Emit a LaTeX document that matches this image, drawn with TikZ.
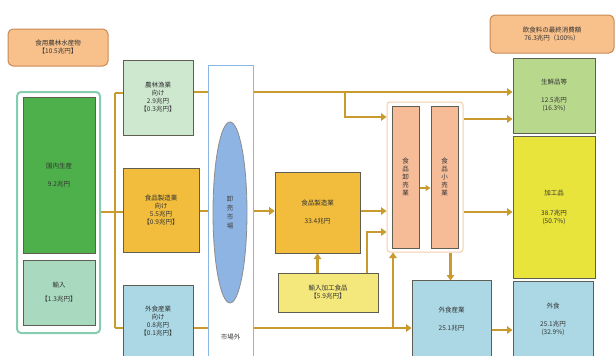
\documentclass[tikz,border=0pt]{standalone}
\usepackage{fontspec}
\setmainfont{Noto Sans CJK JP}
\usetikzlibrary{arrows.meta,shapes.geometric}
\definecolor{flow}{HTML}{C99A2E}
\definecolor{orgfill}{HTML}{F8C08A}
\definecolor{orgdraw}{HTML}{C98A55}
\definecolor{dgreen}{HTML}{4DB04A}
\definecolor{tealb}{HTML}{86CCAE}
\definecolor{impfill}{HTML}{A9D9BE}
\definecolor{lgreen}{HTML}{CDE8CF}
\definecolor{gold}{HTML}{F2BD3C}
\definecolor{lblue}{HTML}{ABD8E4}
\definecolor{wbox}{HTML}{8AB7E2}
\definecolor{ellfill}{HTML}{8EB4E3}
\definecolor{salmon}{HTML}{F6BC98}
\definecolor{contb}{HTML}{F3CDA8}
\definecolor{fresh}{HTML}{B8D98B}
\definecolor{proc}{HTML}{E9E43C}
\definecolor{impproc}{HTML}{F4E77C}
\definecolor{bdr}{HTML}{5E5E52}
\tikzset{
  box/.style={draw=bdr, line width=1pt, inner sep=0pt, align=center, font=\fontsize{6.5}{8}\selectfont, text=black!80},
  flowline/.style={draw=flow, line width=2.4pt},
  flowarrow/.style={flowline, -{Triangle[width=7.5pt,length=5.5pt]}},
}
\begin{document}
\begin{tikzpicture}[x=1pt,y=-1pt]
\useasboundingbox (0,0) rectangle (616,356);
\fill[white] (0,0) rectangle (616,356);
% top boxes
\node[box, draw=orgdraw, fill=orgfill, rounded corners=5pt, minimum width=100pt, minimum height=37pt] (src) at (58,47.5) {食用農林水産物\\【10.5兆円】};
\node[box, draw=orgdraw, fill=orgfill, rounded corners=5pt, minimum width=124pt, minimum height=38pt] (fin) at (552,34) {飲食料の最終消費額\\76.3兆円（100\%）};
% left group
\node[draw=tealb, line width=2pt, rounded corners=4pt, fill=white, minimum width=83pt, minimum height=241pt, inner sep=0pt] (grp) at (58.5,212.5) {};
\node[box, fill=dgreen, minimum width=72pt, minimum height=156pt] (dom) at (59,175) {国内生産\\[10pt]9.2兆円};
\node[box, fill=impfill, minimum width=72pt, minimum height=65pt] (imp) at (59,292.5) {輸入\\[6pt]【1.3兆円】};
% intermediate left boxes
\node[box, fill=lgreen, minimum width=70pt, minimum height=75pt] (agr) at (158,97.5) {農林漁業\\向け\\2.9兆円\\【0.3兆円】};
\node[box, fill=gold, minimum width=76pt, minimum height=84pt] (mfg) at (161,210) {食品製造業\\向け\\5.5兆円\\【0.9兆円】};
\node[box, fill=lblue, minimum width=70pt, minimum height=72pt] (fsv) at (158,321) {外食産業\\向け\\0.8兆円\\【0.1兆円】};
% middle boxes
\node[box, fill=gold, minimum width=85pt, minimum height=81pt] (fm) at (317.5,212.5) {食品製造業\\[10pt]33.4兆円};
\node[box, fill=impproc, minimum width=100pt, minimum height=39pt] (ipf) at (328,292.5) {輸入加工食品\\【5.9兆円】};
\node[draw=contb, line width=1pt, fill=white, rounded corners=3pt, minimum width=76pt, minimum height=150pt, inner sep=0pt] (cont) at (425,177) {};
\node[box, fill=salmon, minimum width=27pt, minimum height=142pt] (whs) at (405.5,177) {食\\品\\卸\\売\\業};
\node[box, fill=salmon, minimum width=27pt, minimum height=142pt] (ret) at (444.5,177) {食\\品\\小\\売\\業};
\node[box, fill=lblue, minimum width=79pt, minimum height=78pt] (fsi) at (451.5,319) {外食産業\\[10pt]25.1兆円};
% right boxes
\node[box, fill=fresh, minimum width=82pt, minimum height=75pt] (fr) at (554,95.5) {生鮮品等\\[10pt]12.5兆円\\(16.3\%)};
\node[box, fill=proc, minimum width=82pt, minimum height=142pt] (pr) at (554,207) {加工品\\[12pt]38.7兆円\\(50.7\%)};
\node[box, fill=lblue, minimum width=80pt, minimum height=76pt] (eo) at (553,319) {外食\\[10pt]25.1兆円\\(32.9\%)};
% coordinates
\coordinate (tTop) at (115,93);
\coordinate (tMid) at (115,212);
\coordinate (tBot) at (115,328);
\coordinate (br1) at (345,92);
\coordinate (br2) at (367,232);
\coordinate (br3) at (393,328);
% flows (behind market box)
\draw[flowline] (grp.east |- tMid) -- (tMid);
\draw[flowline] (tTop) -- (tBot);
\draw[flowline] (tTop) -- (agr.west |- tTop);
\draw[flowline] (tMid) -- (mfg.west |- tMid);
\draw[flowline] (tBot) -- (fsv.west |- tBot);
\draw[flowarrow] (agr.east |- 0,92) -- (fr.west |- 0,92);
\draw[flowarrow] (br1) -- (345,117) -- (cont.west |- 0,117);
\draw[flowarrow] (mfg.east |- 0,211) -- (fm.west |- 0,211);
\draw[flowarrow] (fsv.east |- 0,328) -- (fsi.west |- 0,328);
\draw[flowarrow] (br3) -- (cont.south -| br3);
% market box (over lines)
\node[draw=wbox, line width=1pt, fill=white, minimum width=45pt, minimum height=300pt, inner sep=0pt] (mkt) at (230.5,215) {};
\node[draw=black!45, line width=0.8pt, fill=ellfill, ellipse, minimum width=34pt, minimum height=181pt, inner sep=0pt, align=center, font=\fontsize{6.5}{9}\selectfont, text=black!75] (ell) at (230,212.5) {卸\\売\\市\\場};
\node[font=\fontsize{6.5}{8}\selectfont, text=black!75] (off) at (230.5,337) {市場外};
\draw[flowarrow] (mkt.east |- 0,211) -- (fm.west |- 0,211);
% middle flows
\draw[flowarrow] (ipf.north -| br2) -- (br2) -- (cont.west |- br2);
\draw[flowarrow] (ipf.north -| fm.south) -- (fm.south);
\draw[flowarrow, -{Triangle[width=6pt,length=5pt]}] (whs.east |- 0,188) -- (ret.west |- 0,188);
\draw[flowarrow] (fm.east |- 0,211) -- (cont.west |- 0,211);
\draw[flowarrow] (cont.east |- 0,119) -- (fr.west |- 0,119);
\draw[flowarrow] (cont.east |- 0,212) -- (pr.west |- 0,212);
\draw[flowarrow] (ret.south |- cont.south) ++(6,0) -- ++(0,28);
\draw[flowarrow] (fsi.east |- 0,330) -- (eo.west |- 0,330);
\end{tikzpicture}
\end{document}
